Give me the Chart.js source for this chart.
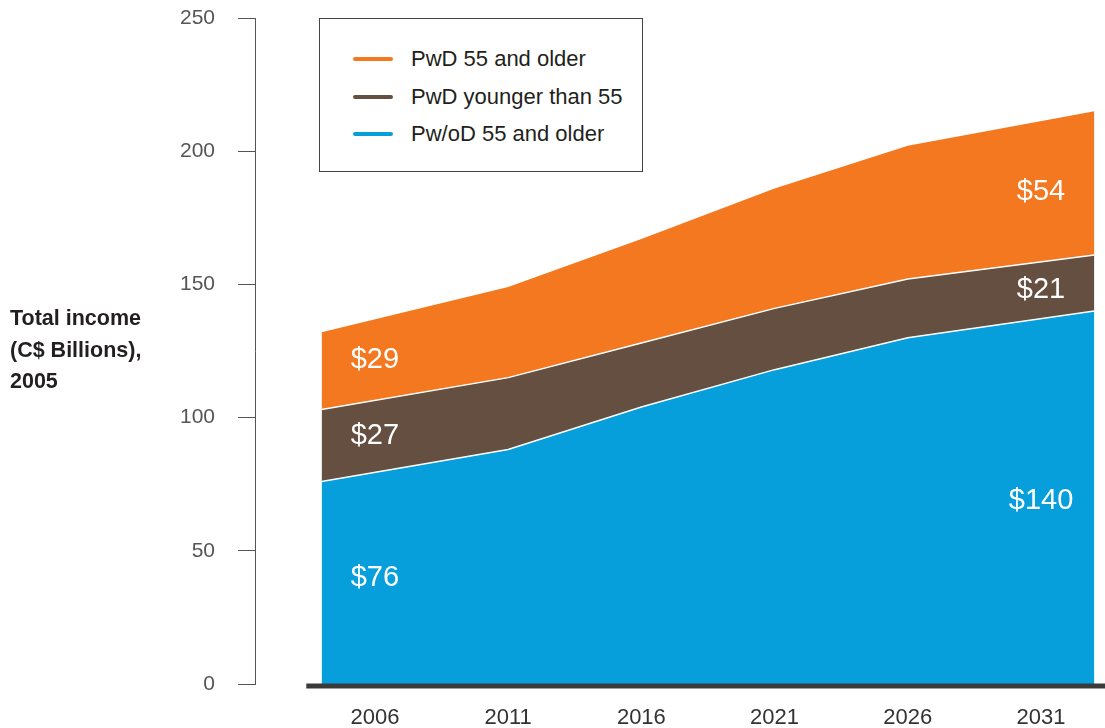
<!DOCTYPE html>
<html>
<head>
<meta charset="utf-8">
<script src="https://cdn.jsdelivr.net/npm/chart.js@4/dist/chart.umd.min.js"></script>
<style>
html,body{margin:0;padding:0;background:#fff;}
#wrap{position:relative;width:1105px;height:728px;font-family:"Liberation Sans",Arial,sans-serif;overflow:hidden;}
#c{position:absolute;left:0;top:0;}
#ytitle{position:absolute;left:10px;top:303px;font-weight:bold;font-size:21.5px;line-height:31.5px;color:#231f20;}
#legend{position:absolute;left:319px;top:18px;width:322px;height:152px;border:1px solid #444;background:#fff;}
.li{position:absolute;left:33px;height:30px;}
.sw{position:absolute;left:0;top:13px;width:40px;height:4px;border-radius:2px;}
.lt{position:absolute;left:58px;top:0;font-size:22px;line-height:30px;color:#231f20;white-space:nowrap;}
</style>
</head>
<body>
<div id="wrap">
  <canvas id="c" width="1105" height="728"></canvas>
  <div id="ytitle">Total income<br>(C$ Billions),<br>2005</div>
  <div id="legend"></div>
</div>
<script>
// ---- data ----
const years = ['2006', '2011', '2016', '2021', '2026', '2031'];
const seriesNames = ['Pw/oD 55 and older', 'PwD younger than 55', 'PwD 55 and older'];
const pwod55 = [76, 88, 104, 118, 130, 140];
const pwdUnder55 = [27, 27, 24, 23, 22, 21];
const pwd55 = [29, 34, 39, 45, 50, 54];
const seriesColors = ['#069fdb', '#654f41', '#f47820'];

// ---- layout / style ----
const FONT = "'Liberation Sans', Arial, sans-serif";
const END_OVERHANG = 0.4; // areas run past the first/last category toward the plot edges
Chart.defaults.font.family = FONT;

function toPoints(arr) {
  return arr.map((v, i) => {
    let x = i;
    if (i === 0) x = -END_OVERHANG;
    if (i === arr.length - 1) x = arr.length - 1 + END_OVERHANG;
    return { x: x, y: v };
  });
}

// legend (top entry = top of stack)
const legendEl = document.getElementById('legend');
[2, 1, 0].forEach((si, k) => {
  const d = document.createElement('div');
  d.className = 'li';
  d.style.top = (25 + k * 37.5) + 'px';
  d.innerHTML = '<div class="sw" style="background:' + seriesColors[si] + '"></div><div class="lt">' + seriesNames[si] + '</div>';
  legendEl.appendChild(d);
});

const baselinePlugin = {
  id: 'baseline',
  afterDatasetsDraw(chart) {
    const { ctx, chartArea, scales } = chart;
    const x0 = scales.x.getPixelForValue(-0.5) - 2;
    ctx.save();
    ctx.strokeStyle = '#3a3a3a';
    ctx.lineWidth = 5;
    ctx.beginPath();
    ctx.moveTo(x0, chartArea.bottom + 2);
    ctx.lineTo(chartArea.right, chartArea.bottom + 2);
    ctx.stroke();
    ctx.restore();
  }
};

function yAtPixel(meta, px) {
  const pts = meta.data;
  for (let i = 0; i < pts.length - 1; i++) {
    const a = pts[i], b = pts[i + 1];
    if (px >= a.x && px <= b.x) {
      const t = (px - a.x) / (b.x - a.x);
      return a.y + t * (b.y - a.y);
    }
  }
  return pts[pts.length - 1].y;
}

const valueLabelPlugin = {
  id: 'valueLabels',
  afterDatasetsDraw(chart) {
    const { ctx, chartArea, scales } = chart;
    const series = [pwod55, pwdUnder55, pwd55];
    const idxs = [0, years.length - 1];
    ctx.save();
    ctx.fillStyle = '#ffffff';
    ctx.font = '29px ' + FONT;
    ctx.textAlign = 'center';
    ctx.textBaseline = 'middle';
    idxs.forEach(idx => {
      const px = scales.x.getPixelForValue(idx);
      let lower = chartArea.bottom;
      series.forEach((arr, si) => {
        const upper = yAtPixel(chart.getDatasetMeta(si), px);
        ctx.fillText('$' + arr[idx], px, (lower + upper) / 2);
        lower = upper;
      });
    });
    ctx.restore();
  }
};

new Chart(document.getElementById('c'), {
  type: 'line',
  data: {
    datasets: [
      { label: seriesNames[0], data: toPoints(pwod55), backgroundColor: seriesColors[0], borderColor: '#ffffff', borderWidth: 1.5, fill: 'origin', pointRadius: 0, tension: 0 },
      { label: seriesNames[1], data: toPoints(pwdUnder55), backgroundColor: seriesColors[1], borderColor: '#ffffff', borderWidth: 1.5, fill: '-1', pointRadius: 0, tension: 0 },
      { label: seriesNames[2], data: toPoints(pwd55), backgroundColor: seriesColors[2], borderColor: seriesColors[2], borderWidth: 0, fill: '-1', pointRadius: 0, tension: 0 }
    ]
  },
  options: {
    responsive: false,
    animation: false,
    layout: { padding: { left: 160, right: 0, top: 18, bottom: 0 } },
    plugins: { legend: { display: false }, tooltip: { enabled: false } },
    scales: {
      x: {
        type: 'linear', min: -0.9, max: 5.48,
        afterBuildTicks: s => { s.ticks = years.map((_, i) => ({ value: i })); },
        ticks: { callback: v => years[v], color: '#333', font: { size: 22 }, padding: 21, maxRotation: 0, autoSkip: false },
        grid: { display: false, drawTicks: false },
        border: { display: false },
        afterFit: s => { s.height = 44; }
      },
      y: {
        stacked: true, min: 0, max: 250,
        ticks: { stepSize: 50, color: '#555', font: { size: 21 }, padding: 23 },
        grid: { drawOnChartArea: false, drawTicks: true, tickLength: 17, color: '#555', lineWidth: 1 },
        border: { display: true, color: '#555', width: 1 },
        afterFit: s => { s.width = 95; s.paddingTop = 0; s.paddingBottom = 0; }
      }
    }
  },
  plugins: [baselinePlugin, valueLabelPlugin]
});
</script>
</body>
</html>
